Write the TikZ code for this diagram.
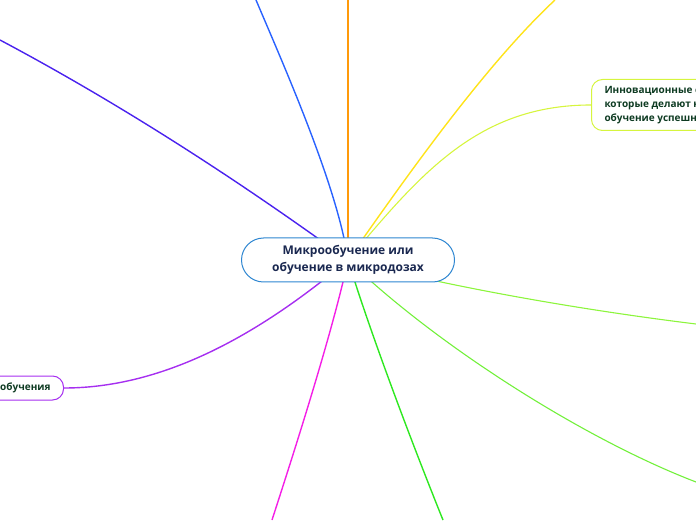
\documentclass[tikz,border=0pt]{standalone}
\usepackage{fontspec}
\setmainfont{Open Sans}
\usepackage{tikz}
\usetikzlibrary{positioning,backgrounds}

\definecolor{ctrblue}{HTML}{2E86D1}
\definecolor{ctrtext}{HTML}{1A2850}
\definecolor{subtext}{HTML}{0E3B22}
\definecolor{brindigo}{HTML}{4A22EE}
\definecolor{brblue}{HTML}{2962FF}
\definecolor{brorange}{HTML}{FF9A0A}
\definecolor{bryellow}{HTML}{FFE31A}
\definecolor{brlime}{HTML}{D6F53E}
\definecolor{brlight}{HTML}{8CF53C}
\definecolor{brgreen}{HTML}{72F03A}
\definecolor{brgrass}{HTML}{2EE820}
\definecolor{brmagenta}{HTML}{F41FE6}
\definecolor{brpurple}{HTML}{A62FF0}

\begin{document}
\begin{tikzpicture}[%
  x=1pt,
  y=1pt,
  branch/.style={
    line width=1.4pt,},
  topic/.style={
    draw=ctrblue,
    line width=1pt,
    fill=white,
    rounded corners=22pt,
    minimum width=213pt,
    minimum height=44pt,
    align=center,
    text=ctrtext,
    font=\bfseries\fontsize{12}{17}\selectfont,},
  subtopic/.style={
    line width=1pt,
    fill=white,
    rounded corners=11pt,
    align=left,
    inner xsep=13pt,
    text=subtext,
    font=\bfseries\fontsize{10}{14}\selectfont,}
  ]
  \useasboundingbox (0,0) rectangle (696,520);
  %% Nodes
  \node[topic] (micro) at (348,260) {Микрообучение или\\обучение в микродозах};
  \node[subtopic, draw=brlime, anchor=west, minimum height=51pt] (tools) at (591,415)
    {Инновационные с\\которые делают н\\обучение успешн};
  \node[subtopic, draw=brpurple, anchor=east, minimum height=24pt] (gains) at (64,132)
    {обучения};
  %% Free ends
  \coordinate (e1) at (0,480);
  \coordinate (e2) at (256,520);
  \coordinate (e3) at (348,520);
  \coordinate (e4) at (555,520);
  \coordinate (e5) at (696,196);
  \coordinate (e6) at (696,38);
  \coordinate (e7) at (443,0);
  \coordinate (e8) at (272,0);
  %% Edges
  \begin{scope}[on background layer]
    \draw[branch, brindigo] (micro.center) to [out=144,in=-28,looseness=0.85] (e1);
    \draw[branch, brblue] (micro.center) to [out=98,in=-67,looseness=0.68] (e2);
    \draw[branch, brorange] (micro.center) to (e3);
    \draw[branch, bryellow] (micro.center) to [out=55,in=-137,looseness=0.75] (e4);
    \draw[branch, brlime, line width=1.1pt] (micro.center) to [out=50,in=180] (tools.west);
    \draw[branch, brlight, line width=1.1pt] (micro.center) to [out=-15,in=173,looseness=0.78] (e5);
    \draw[branch, brgreen, line width=1.1pt] (micro.center) to [out=-44,in=159,looseness=0.75] (e6);
    \draw[branch, brgrass] (micro.center) to [out=-73,in=112,looseness=0.72] (e7);
    \draw[branch, brmagenta] (micro.center) to [out=-102,in=72,looseness=0.68] (e8);
    \draw[branch, brpurple] (micro.center) to [out=-140,in=0,looseness=0.87] (gains.east);
  \end{scope}
\end{tikzpicture}
\end{document}
